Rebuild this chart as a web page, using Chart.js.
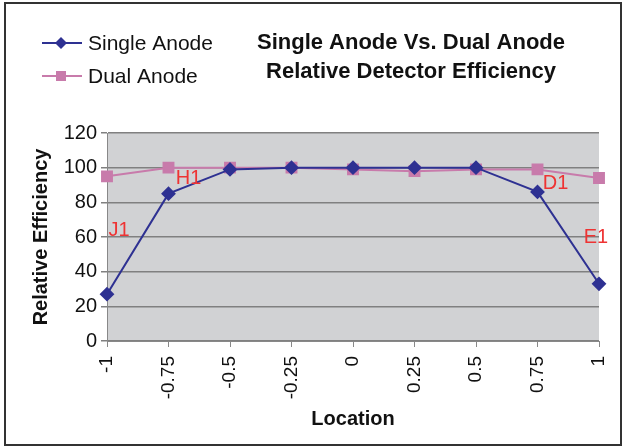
<!DOCTYPE html>
<html lang="en">
<head>
    <meta charset="UTF-8">
    <title>Single Anode Vs. Dual Anode</title>
    <script src="https://cdn.jsdelivr.net/npm/chart.js"></script>
    <style>
        body {
            margin: 0;
            padding: 0;
            background: white;
        }
        .wrap {
            position: relative;
            width: 626px;
            height: 448px;
        }
    </style>
</head>
<body>
    <div class="wrap">
        <canvas id="chart" width="626" height="448"></canvas>
    </div>

    <script>
        const locations = ["-1", "-0.75", "-0.5", "-0.25", "0", "0.25", "0.5", "0.75", "1"];
        const singleAnode = [27, 85, 99, 100, 100, 100, 100, 86, 33];
        const dualAnode = [95, 100, 100, 100, 99, 98, 99, 99, 94];

        // red point labels: category index + value they sit at
        const noteText = ["J1", "H1", "D1", "E1"];
        const noteIndex = [0, 1, 7, 8];
        const noteValue = [64, 94, 91, 60];
        const noteShift = [12, 20, 18, -3];

        const chartTitle = ["Single Anode Vs. Dual Anode", "Relative Detector Efficiency"];

        const FONT = "Arial, 'Liberation Sans', sans-serif";

        // legend, title, notes and outer frame
        const decor = {
            id: "decor",
            beforeDraw(chart) {
                const { ctx, chartArea: a } = chart;
                ctx.save();
                ctx.fillStyle = "#d1d2d4";
                ctx.fillRect(a.left, a.top, a.right - a.left, a.bottom - a.top);
                ctx.restore();
            },
            afterDraw(chart) {
                const { ctx, scales } = chart;
                ctx.save();

                // frame
                ctx.strokeStyle = "#333";
                ctx.lineWidth = 2;
                ctx.strokeRect(5, 3, 616, 442);

                // legend
                chart.data.datasets.forEach((ds, i) => {
                    const y = 43 + i * 33;
                    ctx.strokeStyle = ds.borderColor;
                    ctx.lineWidth = 2;
                    ctx.beginPath();
                    ctx.moveTo(42, y);
                    ctx.lineTo(82, y);
                    ctx.stroke();
                    ctx.fillStyle = ds.pointBackgroundColor;
                    if (ds.pointStyle === "rectRot") {
                        ctx.beginPath();
                        ctx.moveTo(61, y - 6);
                        ctx.lineTo(67, y);
                        ctx.lineTo(61, y + 6);
                        ctx.lineTo(55, y);
                        ctx.closePath();
                        ctx.fill();
                    } else {
                        ctx.fillRect(56, y - 5, 10, 10);
                    }
                    ctx.fillStyle = "#111";
                    ctx.font = "21px " + FONT;
                    ctx.textBaseline = "middle";
                    ctx.textAlign = "left";
                    ctx.fillText(ds.label, 88, y + 1);
                });

                // title
                ctx.fillStyle = "#111";
                ctx.font = "bold 22px " + FONT;
                ctx.textAlign = "center";
                ctx.textBaseline = "middle";
                chartTitle.forEach((t, i) => ctx.fillText(t, 411, 43 + i * 29));

                // notes
                ctx.fillStyle = "#ee3333";
                ctx.font = "20px " + FONT;
                noteText.forEach((t, i) => {
                    const x = scales.x.getPixelForValue(noteIndex[i]);
                    const y = scales.y.getPixelForValue(noteValue[i]);
                    ctx.fillText(t, x + noteShift[i], y);
                });
                ctx.restore();
            }
        };

        new Chart(document.getElementById("chart"), {
            type: "line",
            data: {
                labels: locations,
                datasets: [
                    {
                        label: "Single Anode",
                        data: singleAnode,
                        borderColor: "#2e3192",
                        backgroundColor: "#2e3192",
                        pointBackgroundColor: "#2e3192",
                        pointBorderColor: "#2e3192",
                        pointStyle: "rectRot",
                        pointRadius: 6,
                        borderWidth: 2,
                        tension: 0
                    },
                    {
                        label: "Dual Anode",
                        data: dualAnode,
                        borderColor: "#c87bab",
                        backgroundColor: "#c87bab",
                        pointBackgroundColor: "#c87bab",
                        pointBorderColor: "#c87bab",
                        pointStyle: "rect",
                        pointRadius: 7,
                        borderWidth: 2,
                        tension: 0
                    }
                ]
            },
            options: {
                responsive: false,
                animation: false,
                layout: {
                    padding: { left: 0, right: 27, top: 133, bottom: 0 }
                },
                plugins: {
                    legend: { display: false },
                    title: { display: false },
                    tooltip: { enabled: false }
                },
                scales: {
                    x: {
                        offset: false,
                        afterFit(scale) {
                            scale.height = 107;
                            scale.paddingLeft = 0;
                            scale.paddingRight = 0;
                        },
                        grid: {
                            display: true,
                            drawOnChartArea: false,
                            color: "#888",
                            tickLength: 6
                        },
                        border: { color: "#888" },
                        ticks: {
                            color: "#111",
                            font: { family: FONT, size: 19 },
                            maxRotation: 90,
                            minRotation: 90,
                            padding: 9
                        },
                        title: {
                            display: true,
                            text: "Location",
                            color: "#111",
                            font: { family: FONT, size: 20, weight: "bold" },
                            padding: { bottom: 17 }
                        }
                    },
                    y: {
                        min: 0,
                        max: 120,
                        afterFit(scale) { scale.width = 107; },
                        grid: {
                            color: "#808080",
                            lineWidth: 1.5,
                            tickLength: 6
                        },
                        border: { color: "#888" },
                        ticks: {
                            stepSize: 20,
                            color: "#111",
                            font: { family: FONT, size: 20 },
                            padding: 4
                        },
                        title: {
                            display: true,
                            text: "Relative Efficiency",
                            color: "#111",
                            font: { family: FONT, size: 20, weight: "bold" },
                            padding: { top: 29 }
                        }
                    }
                }
            },
            plugins: [decor]
        });
    </script>
</body>
</html>
